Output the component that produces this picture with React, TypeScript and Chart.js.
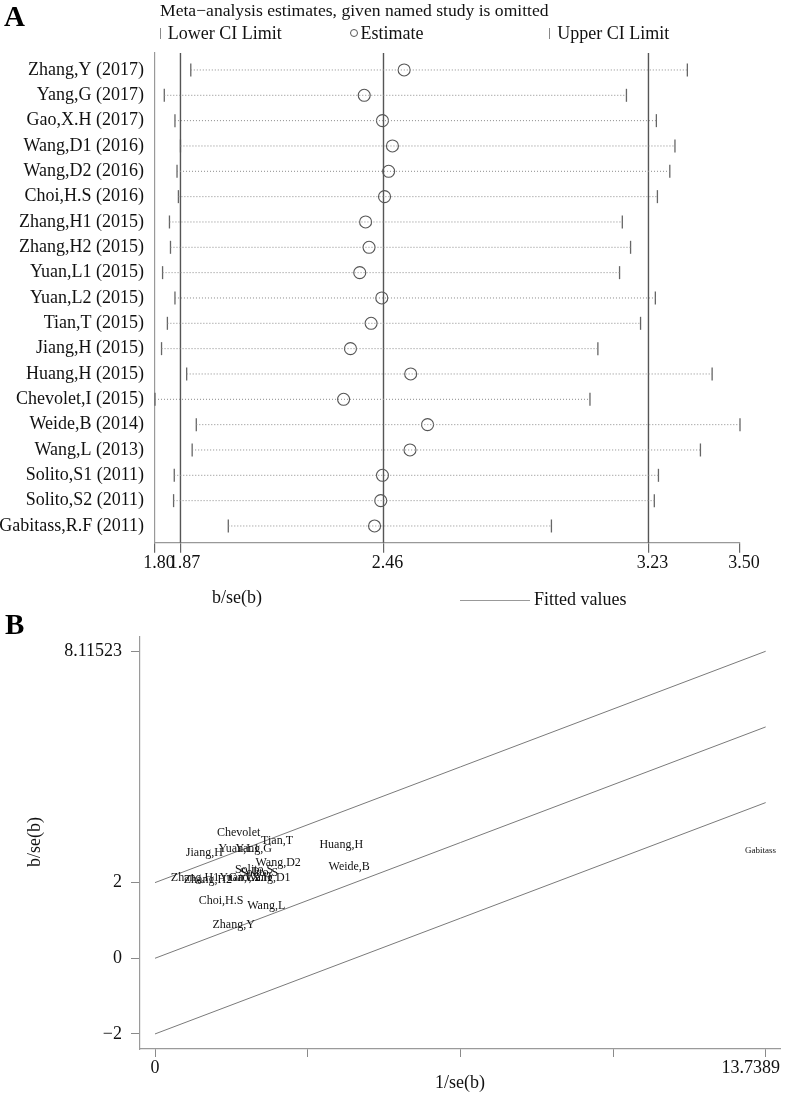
import React, { useEffect, useRef } from "react";
import { Chart, registerables } from "chart.js";
Chart.register(...registerables);

// ---------- Panel A data (sensitivity analysis) ----------
const studies = [
  "Zhang,Y (2017)", "Yang,G (2017)", "Gao,X.H (2017)", "Wang,D1 (2016)", "Wang,D2 (2016)",
  "Choi,H.S (2016)", "Zhang,H1 (2015)", "Zhang,H2 (2015)", "Yuan,L1 (2015)", "Yuan,L2 (2015)",
  "Tian,T (2015)", "Jiang,H (2015)", "Huang,H (2015)", "Chevolet,I (2015)", "Weide,B (2014)",
  "Wang,L (2013)", "Solito,S1 (2011)", "Solito,S2 (2011)", "Gabitass,R.F (2011)",
];
const lowerCI = [1.904, 1.827, 1.858, 1.874, 1.864, 1.868, 1.842, 1.845, 1.822, 1.858, 1.836, 1.819, 1.892, 1.800, 1.920, 1.908, 1.856, 1.854, 2.013];
const estimate = [2.524, 2.408, 2.461, 2.490, 2.479, 2.467, 2.412, 2.422, 2.395, 2.459, 2.428, 2.368, 2.543, 2.348, 2.592, 2.541, 2.461, 2.456, 2.438];
const upperCI = [3.347, 3.170, 3.257, 3.311, 3.296, 3.260, 3.158, 3.182, 3.150, 3.254, 3.211, 3.087, 3.419, 3.064, 3.500, 3.385, 3.263, 3.251, 2.952];
const xTicksA = [1.80, 1.874, 2.464, 3.234, 3.50];
const refLinesA = [1.874, 2.464, 3.234];
const xMinA = 1.80;
const xMaxA = 3.50;
const yMinA = -0.67;
const yMaxA = 18.66;

// ---------- Panel B data (Galbraith plot) ----------
const gLabels = [
  "Zhang,Y", "Yang,G", "Gao,X.H", "Wang,D1", "Wang,D2", "Choi,H.S", "Zhang,H1", "Zhang,H2",
  "Yuan,L1", "Yuan,L2", "Tian,T", "Jiang,H", "Huang,H", "Chevolet", "Weide,B", "Wang,L",
  "Solito,S", "Solito,S", "Gabitass",
];
const invSE = [1.77, 2.22, 2.14, 2.54, 2.77, 1.485, 0.90, 1.19, 1.89, 1.91, 2.745, 1.109, 4.191, 1.883, 4.369, 2.502, 2.23, 2.34, 13.62];
const zScore = [0.872, 2.88, 2.12, 2.13, 2.53, 1.523, 2.115, 2.07, 2.88, 2.12, 3.109, 2.791, 3.003, 3.32, 2.406, 1.382, 2.33, 2.25, 2.836];
const fitX = [0, 13.7389];
const upperBandY = [2, 8.11523];
const fitY = [0, 6.11523];
const lowerBandY = [-2, 4.11523];
const xTicksB = [0, 3.4347, 6.8695, 10.3042, 13.7389];
const yTicksB = [-2, 0, 2, 8.11523];
const yTickLabelsB = ["\u22122", "0", "2", "8.11523"];
const xMinB = -0.3375;
const xMaxB = 14.061;
const yMinB = -2.398;
const yMaxB = 8.5;

const FONT = "'Liberation Serif', 'Times New Roman', serif";
const W = 787;
const HA = 580;
const HB = 495;

function ChartA() {
  const ref = useRef<HTMLCanvasElement | null>(null);
  useEffect(() => {
    if (!ref.current) return;
    const datasets: any[] = [];
    studies.forEach((_, i) => {
      datasets.push({
        type: "line",
        data: [{ x: lowerCI[i], y: i }, { x: upperCI[i], y: i }],
        borderColor: "#8a8a8a",
        borderWidth: 1,
        borderDash: [1, 2],
        pointRadius: 0,
        clip: false,
      });
    });
    refLinesA.forEach((v) => {
      datasets.push({
        type: "line",
        data: [{ x: v, y: yMinA }, { x: v, y: yMaxA }],
        borderColor: "#555",
        borderWidth: 1.4,
        pointRadius: 0,
        clip: false,
      });
    });
    datasets.push({
      type: "scatter",
      data: lowerCI.map((v, i) => ({ x: v, y: i })),
      pointStyle: "line",
      rotation: 90,
      pointRadius: 6.5,
      borderColor: "#666",
      borderWidth: 1.3,
      clip: false,
    });
    datasets.push({
      type: "scatter",
      data: upperCI.map((v, i) => ({ x: v, y: i })),
      pointStyle: "line",
      rotation: 90,
      pointRadius: 6.5,
      borderColor: "#666",
      borderWidth: 1.3,
      clip: false,
    });
    datasets.push({
      type: "scatter",
      data: estimate.map((v, i) => ({ x: v, y: i })),
      pointStyle: "circle",
      pointRadius: 6,
      borderColor: "#555",
      backgroundColor: "rgba(0,0,0,0)",
      borderWidth: 1.1,
      clip: false,
    });
    const chart = new Chart(ref.current, {
      type: "scatter",
      data: { datasets },
      options: {
        animation: false,
        responsive: false,
        devicePixelRatio: 1,
        events: [],
        layout: { padding: { top: 53, right: 47, left: 0, bottom: 0 } },
        plugins: { legend: { display: false }, tooltip: { enabled: false } },
        scales: {
          x: {
            type: "linear",
            min: xMinA,
            max: xMaxA,
            afterBuildTicks: (s: any) => { s.ticks = xTicksA.map((v) => ({ value: v })); },
            afterFit: (s: any) => { s.height = HA - 542.7; },
            ticks: {
              autoSkip: false,
              maxRotation: 0,
              padding: 0,
              labelOffset: 4,
              color: "#111",
              font: { family: FONT, size: 18 },
              callback: (v: any) => Number(v).toFixed(2),
            },
            grid: { drawOnChartArea: false, drawTicks: true, tickLength: 10, color: "#666", lineWidth: 1.2 },
            border: { display: true, color: "#999", width: 1.2 },
          },
          y: {
            type: "linear",
            reverse: true,
            min: yMinA,
            max: yMaxA,
            afterBuildTicks: (s: any) => { s.ticks = studies.map((_, i) => ({ value: i })); },
            afterFit: (s: any) => { s.width = 155; },
            ticks: {
              autoSkip: false,
              padding: 11,
              color: "#111",
              font: { family: FONT, size: 18 },
              callback: (v: any) => studies[Math.round(Number(v))],
            },
            grid: { display: false, drawTicks: false, tickLength: 0 },
            border: { display: true, color: "#999", width: 1.2 },
          },
        },
      },
    } as any);
    return () => chart.destroy();
  }, []);
  return (
    <canvas
      ref={ref}
      width={W}
      height={HA}
      style={{ position: "absolute", left: 0, top: 0, width: W, height: HA }}
    />
  );
}

function ChartB() {
  const ref = useRef<HTMLCanvasElement | null>(null);
  useEffect(() => {
    if (!ref.current) return;
    const lineDs = (ys: number[]) => ({
      type: "line",
      data: fitX.map((x, i) => ({ x, y: ys[i] })),
      borderColor: "#7a7a7a",
      borderWidth: 1,
      pointRadius: 0,
      clip: false,
    });
    const labelIndex = 3;
    const chart = new Chart(ref.current, {
      type: "scatter",
      data: {
        datasets: [
          lineDs(upperBandY),
          lineDs(fitY),
          lineDs(lowerBandY),
          {
            type: "scatter",
            data: invSE.map((x, i) => ({ x, y: zScore[i] })),
            pointRadius: 0,
            clip: false,
          },
        ] as any,
      },
      options: {
        animation: false,
        responsive: false,
        devicePixelRatio: 1,
        events: [],
        layout: { padding: { top: 36.7, right: 7, left: 0, bottom: 0 } },
        plugins: { legend: { display: false }, tooltip: { enabled: false } },
        scales: {
          x: {
            type: "linear",
            min: xMinB,
            max: xMaxB,
            afterBuildTicks: (s: any) => { s.ticks = xTicksB.map((v) => ({ value: v })); },
            afterFit: (s: any) => { s.height = HB - 449; },
            ticks: {
              autoSkip: false,
              maxRotation: 0,
              padding: 0,
              color: "#111",
              font: { family: FONT, size: 18 },
              callback: (v: any) => (Number(v) === 0 ? "0" : ""),
            },
            grid: { drawOnChartArea: false, drawTicks: true, tickLength: 8, color: "#8a8a8a" },
            border: { display: true, color: "#9a9a9a", width: 1.2 },
          },
          y: {
            type: "linear",
            min: yMinB,
            max: yMaxB,
            afterBuildTicks: (s: any) => { s.ticks = yTicksB.map((v) => ({ value: v })); },
            afterFit: (s: any) => { s.width = 140; },
            ticks: {
              autoSkip: false,
              padding: 9,
              color: "#111",
              font: { family: FONT, size: 18 },
              callback: (v: any) => {
                const k = yTicksB.indexOf(Number(v));
                return k >= 0 ? yTickLabelsB[k] : "";
              },
            },
            grid: { drawOnChartArea: false, drawTicks: true, tickLength: 9, color: "#8a8a8a" },
            border: { display: true, color: "#9a9a9a", width: 1.2 },
          },
        },
      },
      plugins: [
        {
          id: "pointLabels",
          afterDatasetsDraw(c: any) {
            const meta = c.getDatasetMeta(labelIndex);
            const ctx = c.ctx;
            ctx.save();
            ctx.fillStyle = "#111";
            ctx.textAlign = "center";
            ctx.textBaseline = "middle";
            meta.data.forEach((el: any, i: number) => {
              const small = invSE[i] > 10;
              ctx.font = `${small ? 9 : 12}px ${FONT}`;
              ctx.fillText(gLabels[i], el.x, el.y);
            });
            ctx.restore();
          },
        },
      ],
    } as any);
    return () => chart.destroy();
  }, []);
  return (
    <canvas
      ref={ref}
      width={W}
      height={HB}
      style={{ position: "absolute", left: 0, top: 600, width: W, height: HB }}
    />
  );
}

const txt = (extra: React.CSSProperties): React.CSSProperties => ({
  position: "absolute",
  fontFamily: FONT,
  fontSize: 18,
  lineHeight: "18px",
  color: "#111",
  whiteSpace: "nowrap",
  ...extra,
});

export default function App() {
  useEffect(() => {
    document.body.style.margin = "0";
    document.body.style.overflow = "hidden";
  }, []);
  return (
    <div style={{ position: "absolute", left: 0, top: 0, width: W, height: 1095, background: "#fff", overflow: "hidden" }}>
      <ChartA />
      <ChartB />
      {/* Panel A header */}
      <div style={txt({ left: 4, top: 2.3, fontSize: 29, lineHeight: "29px", fontWeight: "bold", color: "#000" })}>A</div>
      <div style={txt({ left: 160, top: 0.6, fontSize: 17.6 })}>Meta−analysis estimates, given named study is omitted</div>
      <div style={{ position: "absolute", left: 160, top: 28, width: 1, height: 11, background: "#888" }} />
      <div style={txt({ left: 167.7, top: 24 })}>Lower CI Limit</div>
      <div style={{ position: "absolute", left: 349.5, top: 28.8, width: 8, height: 8, borderRadius: "50%", border: "1px solid #555", boxSizing: "border-box" }} />
      <div style={txt({ left: 360.5, top: 24 })}>Estimate</div>
      <div style={{ position: "absolute", left: 548.5, top: 28, width: 1, height: 11, background: "#888" }} />
      <div style={txt({ left: 557.3, top: 24 })}>Upper CI Limit</div>
      {/* Panel A footer / legend */}
      <div style={txt({ left: 237, top: 588, transform: "translateX(-50%)" })}>b/se(b)</div>
      <div style={{ position: "absolute", left: 460, top: 599.5, width: 70, height: 1.3, background: "#999" }} />
      <div style={txt({ left: 534, top: 589.5 })}>Fitted values</div>
      {/* Panel B */}
      <div style={txt({ left: 5, top: 609.6, fontSize: 29, lineHeight: "29px", fontWeight: "bold", color: "#000" })}>B</div>
      <div style={txt({ left: 34, top: 842, transform: "translate(-50%, -50%) rotate(-90deg)" })}>b/se(b)</div>
      <div style={txt({ left: 780, top: 1058.2, transform: "translateX(-100%)" })}>13.7389</div>
      <div style={txt({ left: 460, top: 1073, transform: "translateX(-50%)" })}>1/se(b)</div>
    </div>
  );
}
